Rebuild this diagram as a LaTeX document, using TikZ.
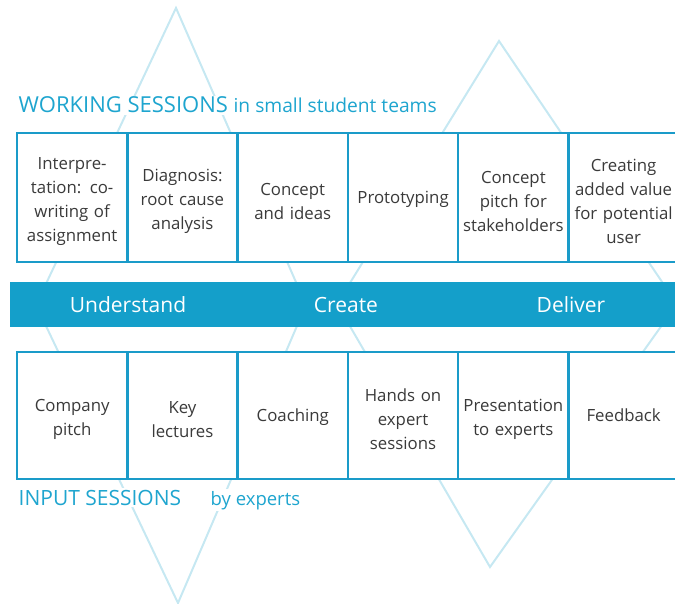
\documentclass[tikz,border=0pt]{standalone}
\usepackage{fontspec}
\setmainfont{Open Sans}
\definecolor{bandblue}{HTML}{149FCA}
\definecolor{boxblue}{HTML}{1A9BC9}
\definecolor{headblue}{HTML}{1EA5CF}
\definecolor{lineblue}{HTML}{C6E8F2}
\definecolor{textgray}{HTML}{3A3A3A}
\tikzset{
  stage/.style={draw=boxblue, line width=2.5pt, fill=white, minimum width=110.3pt,
    minimum height=129pt, text width=106pt, align=center, text=textgray,
    font=\fontsize{16.8}{24}\selectfont, inner sep=0pt,
    execute at end node={\par\vspace{-8pt}}},
  diamondline/.style={draw=lineblue, line width=2pt},
  phase/.style={text=white, font=\fontsize{21}{24}\selectfont},
  heading/.style={text=headblue, fill=white, inner sep=1.5pt, anchor=base west}
}

\begin{document}
\begin{tikzpicture}[x=1pt,y=-1pt]
\useasboundingbox (0,0) rectangle (675,604);
% double diamond behind everything
\draw[diamondline] (176,8) -- (36,305) -- (178,603) -- (306,305) -- cycle;
\draw[diamondline] (499,41) -- (337,304) -- (490,567) -- (677,304) -- cycle;
% headings
\node[heading] (work) at (17,113) {\fontsize{22}{22}\selectfont WORKING SESSIONS
  {\fontsize{19.2}{18}\selectfont in small student teams}};
\node[heading] (input) at (17,505) {\fontsize{21}{21}\selectfont INPUT SESSIONS};
\node[heading] (byexp) at (209,505) {\fontsize{18.5}{18}\selectfont by experts};
% working sessions
\node[stage] (w1) at (72.15,197.5) {Interpre-\\tation: co-\\writing of\\assignment};
\node[stage] (w2) at (182.45,197.5) {Diagnosis:\\root cause\\analysis};
\node[stage] (w3) at (292.75,197.5) {Concept\\and ideas};
\node[stage] (w4) at (403.05,197.5) {Prototyping};
\node[stage] (w5) at (513.35,197.5) {Concept\\pitch for\\stakeholders};
\node[stage] (w6) at (623.65,197.5) {Creating\\added value\\for potential\\user};
% band
\node[fill=bandblue, minimum width=665pt, minimum height=45pt, inner sep=0pt] (band) at (342.5,304.5) {};
\node[phase] (understand) at (128,304.5) {Understand};
\node[phase] (create) at (346,304.5) {Create};
\node[phase] (deliver) at (571,304.5) {Deliver};
% input sessions
\node[stage, minimum height=127pt] (i1) at (72.15,415.5) {Company\\pitch};
\node[stage, minimum height=127pt] (i2) at (182.45,415.5) {Key\\lectures};
\node[stage, minimum height=127pt] (i3) at (292.75,415.5) {Coaching};
\node[stage, minimum height=127pt] (i4) at (403.05,415.5) {Hands on\\expert\\sessions};
\node[stage, minimum height=127pt] (i5) at (513.35,415.5) {Presentation\\to experts};
\node[stage, minimum height=127pt] (i6) at (623.65,415.5) {Feedback};
\end{tikzpicture}
\end{document}
